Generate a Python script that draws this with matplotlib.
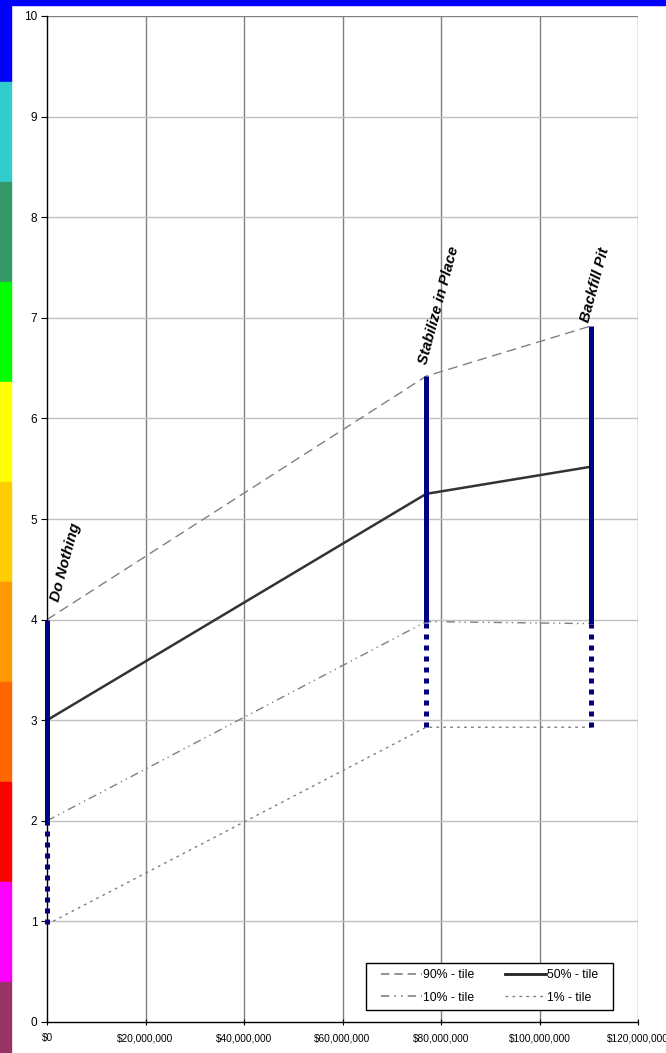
import matplotlib
matplotlib.use("Agg")
import matplotlib.pyplot as plt
import matplotlib.patches as mpatches
from matplotlib.ticker import FuncFormatter
from matplotlib.lines import Line2D

plt.rcParams['font.family'] = ['Liberation Sans', 'DejaVu Sans']

# alternatives: cost vs. percentile outcomes
alternatives = ["Do Nothing", "Stabilize in Place", "Backfill Pit"]
cost = [0, 77e6, 110.5e6]
p90 = [4.0, 6.42, 6.92]
p50 = [3.0, 5.25, 5.52]
p10 = [2.0, 3.98, 3.96]
p01 = [0.97, 2.93, 2.93]

# colour scale strip on the left (top to bottom)
strip_colors = ["#0000ff", "#33cccc", "#339966", "#00ff00", "#ffff00", "#ffcc00",
                "#ff9900", "#ff6600", "#ff0000", "#ff00ff", "#993366"]

W, H = 666, 1053
fig = plt.figure(figsize=(W / 100, H / 100), dpi=100)

# left colour strip (each band ~100px) and top blue band
strip_w = 11 / W
for i, c in enumerate(strip_colors):
    top_px = 0 if i == 0 else 82 + (i - 1) * 100
    bot_px = min(82 + i * 100, H)
    fig.patches.append(mpatches.Rectangle((0, 1 - bot_px / H), strip_w,
                                          (bot_px - top_px) / H,
                                          transform=fig.transFigure, color=c, zorder=0))
fig.patches.append(mpatches.Rectangle((0, 1 - 5 / H), 1, 5 / H,
                                      transform=fig.transFigure, color="#0000ff", zorder=0))

ax = fig.add_axes([47 / W, 31 / H, 591 / W, 1006 / H])
ax.set_xlim(0, 120e6)
ax.set_ylim(0, 10)

# gridlines
for x in range(20, 121, 20):
    ax.axvline(x * 1e6, color="#808080", lw=1, zorder=0)
for y in range(1, 10):
    ax.axhline(y, color="#c0c0c0", lw=1, zorder=0)
ax.axhline(10, color="#808080", lw=1, zorder=0)

ax.plot(cost, p90, color="#808080", lw=1, dashes=(7, 4), zorder=2)
ax.plot(cost, p50, color="#333333", lw=1.8, zorder=2)
ax.plot(cost, p10, color="#808080", lw=1, dashes=(6, 3, 1, 3, 1, 3), zorder=2)
ax.plot(cost, p01, color="#808080", lw=1, dashes=(2, 3), zorder=2)

# range bars
ax.vlines(cost, p10, p90, color="#000080", lw=3.6, zorder=3, clip_on=False)
ax.vlines(cost, p01, p10, color="#000080", lw=3.6, linestyles=(0, (1, 1.2)),
          zorder=3, clip_on=False)

# label offsets in pixels from the 90% point
label_offsets = [(19, 57), (13, 71), (4, 41)]
for name, x, y, off in zip(alternatives, cost, p90, label_offsets):
    ax.annotate(name, (x, y), xytext=off, textcoords="offset pixels",
                rotation=75, ha="center", va="center",
                fontsize=10.8, fontweight="bold", fontstyle="italic", zorder=4)

ax.set_yticks(range(0, 11))
ax.set_xticks([i * 20e6 for i in range(7)])
ax.xaxis.set_major_formatter(FuncFormatter(lambda v, p: "${:,.0f}".format(v)))
ax.tick_params(axis="y", labelsize=8.5, length=4, direction="out", pad=3)
ax.tick_params(axis="x", labelsize=7.3, length=4, direction="inout", pad=6)
for s in ["top", "right"]:
    ax.spines[s].set_visible(False)
ax.spines["left"].set_linewidth(1)
ax.spines["bottom"].set_linewidth(1)

# legend: frameless, with its own box
box_l, box_r, box_t, box_b = 366, 613, 963, 1010
fig.patches.append(mpatches.Rectangle((box_l / W, 1 - box_b / H),
                                      (box_r - box_l) / W, (box_b - box_t) / H,
                                      transform=fig.transFigure, facecolor="white",
                                      edgecolor="black", lw=1, zorder=5))
handles = [
    Line2D([], [], color="#808080", lw=1.2, dashes=(5, 3)),
    Line2D([], [], color="#808080", lw=1.2, dashes=(5, 3, 1, 3, 1, 3)),
    Line2D([], [], color="#222222", lw=2),
    Line2D([], [], color="#808080", lw=1, dashes=(2, 3)),
]
labels = ["90% - tile", "10% - tile", "50% - tile", "1% - tile"]
leg = fig.legend(handles, labels, ncol=2, loc="center",
                 bbox_to_anchor=((box_l + box_r) / 2 / W, 1 - (box_t + box_b) / 2 / H),
                 fontsize=8.8, frameon=False,
                 handlelength=3.4, handletextpad=0.05, columnspacing=2.5,
                 borderpad=0, labelspacing=0.85, borderaxespad=0)
leg.set_zorder(6)

fig.savefig("out.png", dpi=100)
